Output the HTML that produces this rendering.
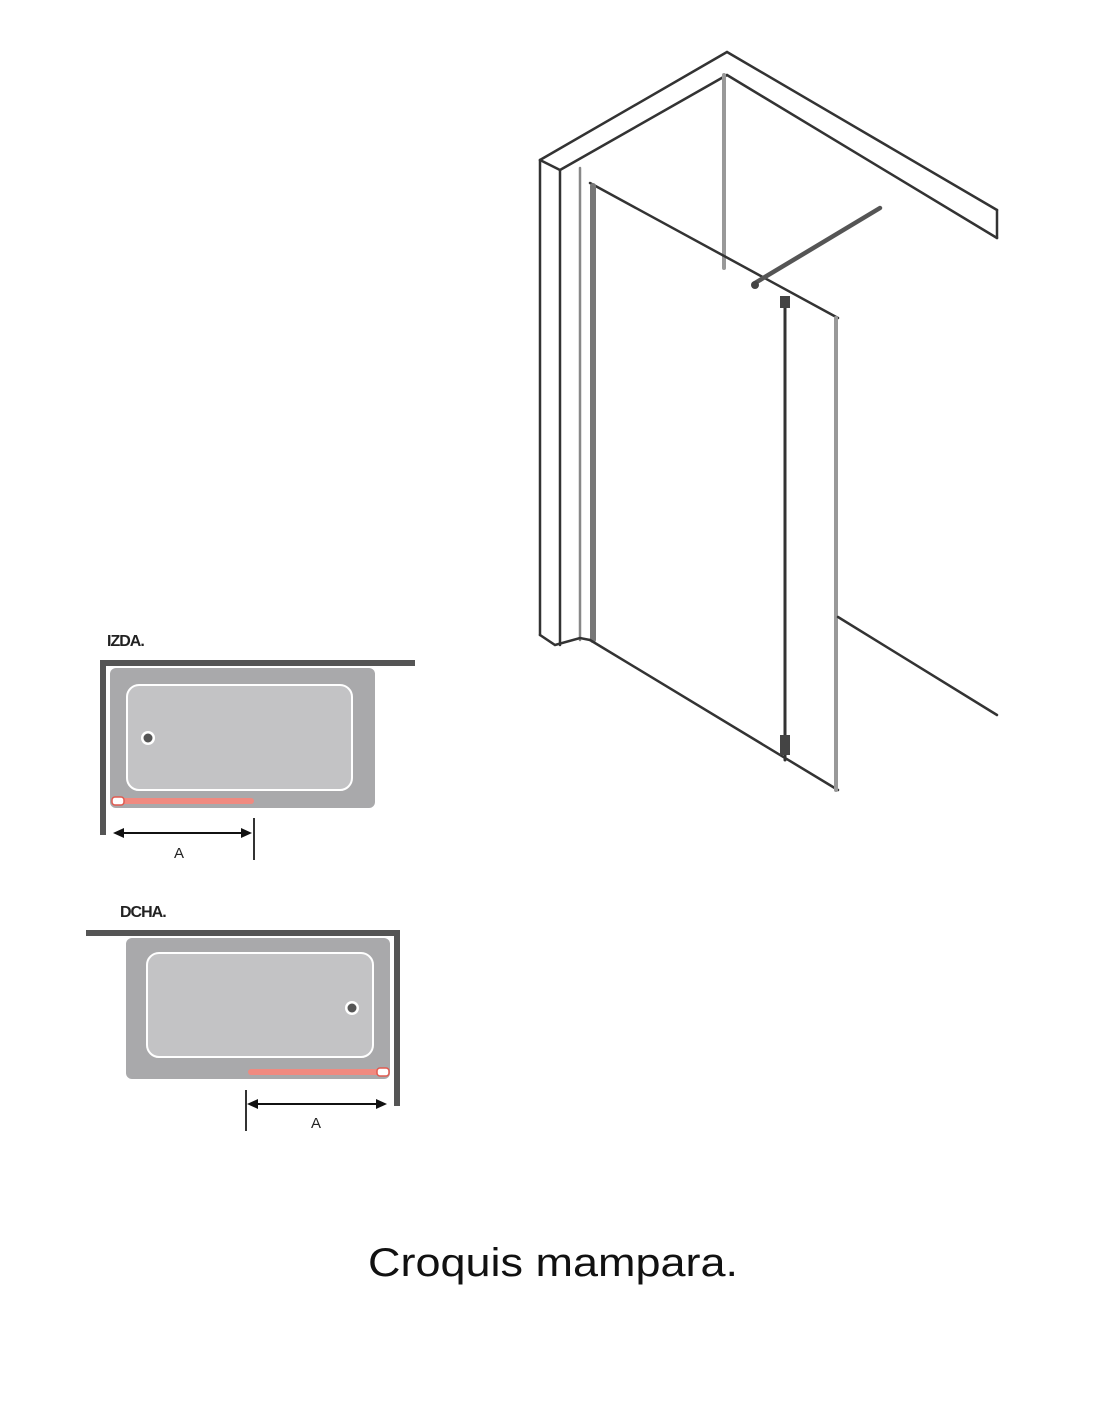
<!DOCTYPE html>
<html><head><meta charset="utf-8"><style>
html,body{margin:0;padding:0;background:#fff;}
svg{display:block;}
</style></head><body>
<svg width="1100" height="1422" viewBox="0 0 1100 1422" xmlns="http://www.w3.org/2000/svg">
<rect width="1100" height="1422" fill="#fff"/>
<!-- 3D drawing -->
<g fill="none" stroke="#333" stroke-width="2.5" stroke-linecap="round">
  <!-- top beams -->
  <polyline points="540,160 727,52 997,210"/>
  <polyline points="560,170 727,75 997,238"/>
  <line x1="540" y1="160" x2="560" y2="170"/>
  <line x1="997" y1="210" x2="997" y2="238"/>
  <!-- left post -->
  <line x1="540" y1="160" x2="540" y2="635"/>
  <line x1="560" y1="170" x2="560" y2="645"/>
  <line x1="580" y1="168" x2="580" y2="640" stroke="#888"/>
  <polyline points="540,635 555,645 580,638 590,640"/>
  <!-- back corner -->
  <line x1="724" y1="75" x2="724" y2="268" stroke="#999" stroke-width="4"/>
  <!-- glass panel -->
  <line x1="590" y1="183" x2="838" y2="318"/>
  <line x1="593" y1="186" x2="593" y2="640" stroke="#777" stroke-width="6"/>
  <line x1="590" y1="640" x2="838" y2="790"/>
  <line x1="836" y1="318" x2="836" y2="790" stroke="#999" stroke-width="4"/>
  <line x1="785" y1="298" x2="785" y2="760" stroke="#333" stroke-width="3"/>
  <line x1="755" y1="283" x2="880" y2="208" stroke="#555" stroke-width="4.5"/>
  <line x1="838" y1="617" x2="997" y2="715"/>
</g>
<rect x="780" y="296" width="10" height="12" fill="#444"/>
<rect x="780" y="735" width="10" height="20" fill="#444"/>
<circle cx="755" cy="285" r="4" fill="#444"/>

<!-- IZDA -->
<text x="107" y="646" font-family="Liberation Sans, sans-serif" font-size="16" font-weight="bold" fill="#222" letter-spacing="-1">IZDA.</text>
<rect x="110" y="668" width="265" height="140" rx="6" fill="#a9a9ab"/>
<rect x="127" y="685" width="225" height="105" rx="12" fill="#c3c3c5" stroke="#fff" stroke-width="2"/>
<circle cx="148" cy="738" r="7" fill="#fff"/><circle cx="148" cy="738" r="4.5" fill="#555"/>
<rect x="100" y="660" width="315" height="6" fill="#555"/>
<rect x="100" y="660" width="6" height="175" fill="#555"/>
<rect x="112" y="798" width="142" height="6" rx="3" fill="#f08a80"/>
<rect x="112" y="797" width="12" height="8" rx="3" fill="#fff" stroke="#e05a50" stroke-width="1.5"/>
<line x1="118" y1="833" x2="248" y2="833" stroke="#111" stroke-width="2"/>
<polygon points="113,833 124,828 124,838" fill="#111"/>
<polygon points="252,833 241,828 241,838" fill="#111"/>
<line x1="254" y1="818" x2="254" y2="860" stroke="#333" stroke-width="2"/>
<text x="174" y="858" font-family="Liberation Sans, sans-serif" font-size="15" fill="#222">A</text>

<!-- DCHA -->
<text x="120" y="917" font-family="Liberation Sans, sans-serif" font-size="16" font-weight="bold" fill="#222" letter-spacing="-1">DCHA.</text>
<rect x="126" y="938" width="264" height="141" rx="6" fill="#a9a9ab"/>
<rect x="147" y="953" width="226" height="104" rx="12" fill="#c3c3c5" stroke="#fff" stroke-width="2"/>
<circle cx="352" cy="1008" r="7" fill="#fff"/><circle cx="352" cy="1008" r="4.5" fill="#555"/>
<rect x="86" y="930" width="314" height="6" fill="#555"/>
<rect x="394" y="930" width="6" height="176" fill="#555"/>
<rect x="248" y="1069" width="140" height="6" rx="3" fill="#f08a80"/>
<rect x="377" y="1068" width="12" height="8" rx="3" fill="#fff" stroke="#e05a50" stroke-width="1.5"/>
<line x1="252" y1="1104" x2="382" y2="1104" stroke="#111" stroke-width="2"/>
<polygon points="247,1104 258,1099 258,1109" fill="#111"/>
<polygon points="387,1104 376,1099 376,1109" fill="#111"/>
<line x1="246" y1="1090" x2="246" y2="1131" stroke="#333" stroke-width="2"/>
<text x="311" y="1128" font-family="Liberation Sans, sans-serif" font-size="15" fill="#222">A</text>

<!-- caption -->
<text x="368" y="1276" font-family="Liberation Sans, sans-serif" font-size="40" fill="#111" textLength="370" lengthAdjust="spacingAndGlyphs">Croquis mampara.</text>
</svg>
</body></html>
